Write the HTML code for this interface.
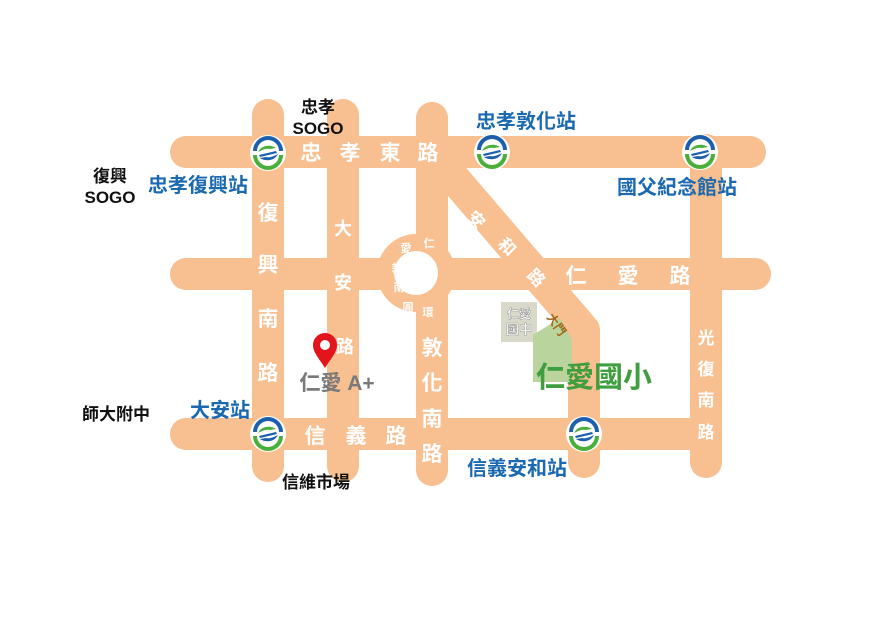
<!DOCTYPE html>
<html><head><meta charset="utf-8"><style>
body{margin:0;background:#fff;}
svg{display:block;}
text{font-family:"Liberation Sans","Noto Sans CJK TC",sans-serif;font-weight:bold;}
.w{fill:#fff;font-size:21px;text-anchor:middle;}
.b{fill:#1b69b0;font-size:20px;}
.k{fill:#111;font-size:17px;text-anchor:middle;}
</style></head><body>
<svg width="872" height="624" viewBox="0 0 872 624" xmlns="http://www.w3.org/2000/svg">
<defs>
<g id="mrt">
<circle r="18" fill="#fff"/>
<path d="M-15,-2 A15,15 0 0 1 15,-2 L11,-2 A11,11 0 0 0 -11,-2 Z" fill="#1b5fae"/>
<path d="M-15,2 A15,15 0 0 0 15,2 L11,2 A11,11 0 0 1 -11,2 Z" fill="#4aae3a"/>
<path d="M-10,-1 C-6,-9 4,-8 8,-5 L2,-4 C-2,-5 -6,-3 -10,-1Z" fill="#4aae3a"/>
<path d="M10,1 C6,9 -4,8 -8,5 L-2,4 C2,5 6,3 10,1Z" fill="#1b5fae"/>
<path d="M-9,2 L8,-2 L9,0 L-8,4Z" fill="#1b5fae"/>
</g>
</defs>
<g stroke="#f8bf90" stroke-linecap="round" fill="none" stroke-width="32">
<line x1="186" y1="152" x2="750" y2="152"/>
<line x1="186" y1="274" x2="755" y2="274"/>
<line x1="186" y1="434" x2="706" y2="434"/>
<line x1="268" y1="115" x2="268" y2="466"/>
<line x1="343" y1="115" x2="343" y2="466"/>
<line x1="432" y1="118" x2="432" y2="470"/>
<line x1="706" y1="150" x2="706" y2="462"/>
<polyline points="440,162 584,330 584,462" stroke-linecap="butt" stroke-linejoin="round"/>
<line x1="584" y1="440" x2="584" y2="462"/>
<circle cx="416" cy="273" r="30" stroke-width="18"/>
</g>
<circle cx="416" cy="273" r="22" fill="#fff"/>
<!-- school -->
<rect x="501" y="302" width="36" height="40" fill="#d9d9c9"/>
<polygon points="533,335 560,318 572,340 572,382 533,382" fill="#b9d49c"/>
<text x="519" y="318" style="font-size:12px;fill:#fff;stroke:#888;stroke-width:0.4" text-anchor="middle">仁愛</text>
<text x="519" y="334" style="font-size:13px;fill:#fff;stroke:#888;stroke-width:0.4" text-anchor="middle">國中</text>
<text x="0" y="0" transform="translate(553,327) rotate(55)" style="font-size:12px;fill:#a06a1a" text-anchor="middle">大門</text>
<text x="594" y="387" style="font-size:29px;fill:#3f9e3f;text-anchor:middle">仁愛國小</text>
<!-- road labels -->
<text class="w" x="311" y="160">忠</text><text class="w" x="350" y="160">孝</text>
<text class="w" x="390" y="160">東</text><text class="w" x="428" y="160">路</text>
<text class="w" x="268" y="220">復</text><text class="w" x="268" y="272">興</text><text class="w" x="268" y="326">南</text><text class="w" x="268" y="380">路</text>
<text class="w" x="343" y="235" style="font-size:18px">大</text><text class="w" x="343" y="289" style="font-size:18px">安</text><text class="w" x="345" y="353" style="font-size:18px">路</text>
<text class="w" x="576" y="283">仁</text><text class="w" x="628" y="283">愛</text><text class="w" x="680" y="283">路</text>
<text class="w" x="315" y="443">信</text><text class="w" x="356" y="443">義</text><text class="w" x="396" y="443">路</text>
<text class="w" x="432" y="355">敦</text><text class="w" x="432" y="390">化</text><text class="w" x="432" y="426">南</text><text class="w" x="432" y="461">路</text>
<text class="w" x="706" y="344" style="font-size:17px">光</text><text class="w" x="706" y="375" style="font-size:17px">復</text><text class="w" x="706" y="406" style="font-size:17px">南</text><text class="w" x="706" y="438" style="font-size:17px">路</text>
<text class="w" transform="translate(472,224) rotate(45)" style="font-size:17px">安</text>
<text class="w" transform="translate(503,251) rotate(45)" style="font-size:17px">和</text>
<text class="w" transform="translate(532,282) rotate(45)" style="font-size:17px">路</text>
<text class="w" x="429" y="247" style="font-size:11px">仁</text>
<text class="w" x="406" y="252" style="font-size:11px">愛</text>
<text class="w" x="397" y="272" style="font-size:11px">敦</text>
<text class="w" x="399" y="291" style="font-size:11px">南</text>
<text class="w" x="408" y="311" style="font-size:11px">圓</text>
<text class="w" x="428" y="316" style="font-size:11px">環</text>
<!-- stations -->
<use href="#mrt" x="268" y="153"/>
<use href="#mrt" x="492" y="152"/>
<use href="#mrt" x="700" y="152"/>
<use href="#mrt" x="268" y="434"/>
<use href="#mrt" x="584" y="434"/>
<text class="b" x="148" y="192">忠孝復興站</text>
<text class="b" x="476" y="128">忠孝敦化站</text>
<text class="b" x="617" y="194">國父紀念館站</text>
<text class="b" x="190" y="417">大安站</text>
<text class="b" x="467" y="475">信義安和站</text>
<text class="k" x="318" y="113">忠孝</text>
<text class="k" x="318" y="134">SOGO</text>
<text class="k" x="110" y="182">復興</text>
<text class="k" x="110" y="203">SOGO</text>
<text class="k" x="116" y="420">師大附中</text>
<text class="k" x="316" y="488">信維市場</text>
<!-- pin -->
<path d="M325,368 C318,357 313,352 313,345 A12,12 0 0 1 337,345 C337,352 332,357 325,368Z" fill="#e2141c"/>
<circle cx="325" cy="345" r="5" fill="#fff"/>
<text x="337" y="390" style="font-size:21px;fill:#7a7a7a;text-anchor:middle">仁愛 A+</text>
</svg>
</body></html>
